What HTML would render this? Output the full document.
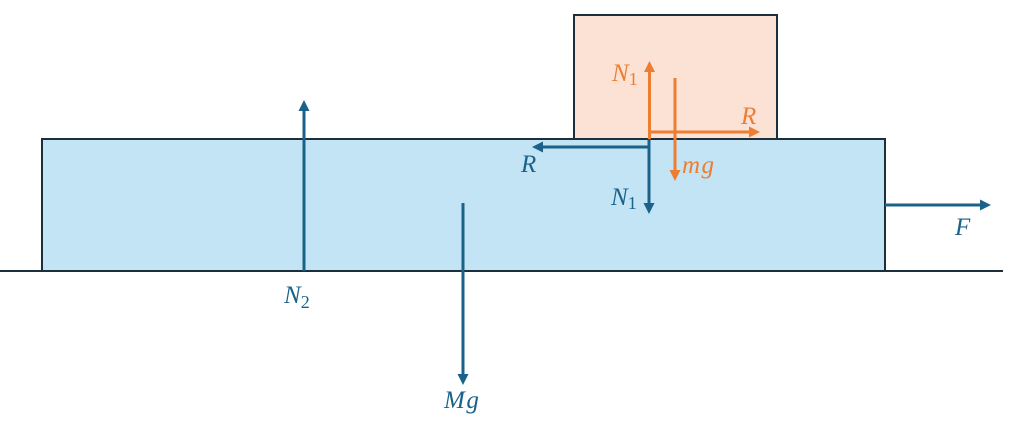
<!DOCTYPE html>
<html><head><meta charset="utf-8"><style>
html,body{margin:0;padding:0;background:#fff;}
svg{display:block;}
text{font-family:"Liberation Serif",serif;font-style:italic;font-size:25px;}
.b{fill:#1a6289;}
.o{fill:#ed7d31;}
</style></head><body>
<svg width="1024" height="435" viewBox="0 0 1024 435" xmlns="http://www.w3.org/2000/svg">
<!-- ground -->
<line x1="0" y1="271" x2="1003" y2="271" stroke="#1c2f3c" stroke-width="2"/>
<!-- big block -->
<rect x="42" y="139" width="843" height="132" fill="#c2e4f4" stroke="#1c2f3c" stroke-width="2"/>
<!-- small block -->
<rect x="574" y="15" width="203" height="124" fill="#fbe2d5" stroke="#1c2f3c" stroke-width="2"/>
<line x1="574" y1="139" x2="777" y2="139" stroke="#1c2f3c" stroke-width="2"/>

<g stroke="#1a6289" stroke-width="3" fill="none">
  <line x1="304" y1="271" x2="304" y2="110"/>
  <line x1="463" y1="203" x2="463" y2="375"/>
  <line x1="885" y1="205" x2="980" y2="205"/>
  <line x1="649" y1="139" x2="649" y2="204"/>
  <line x1="650" y1="147" x2="543" y2="147"/>
</g>
<g fill="#1a6289">
  <polygon points="304,100 298.5,111 309.5,111"/>
  <polygon points="463,385 457.5,374 468.5,374"/>
  <polygon points="991,205 980,199.5 980,210.5"/>
  <polygon points="649,214 643.5,203 654.5,203"/>
  <polygon points="532,147 543,141.5 543,152.5"/>
</g>

<g stroke="#ed7d31" stroke-width="3" fill="none">
  <line x1="649.5" y1="139" x2="649.5" y2="72"/>
  <line x1="649" y1="132" x2="749" y2="132"/>
  <line x1="675" y1="78" x2="675" y2="170"/>
</g>
<g fill="#ed7d31">
  <polygon points="649.5,61 644,72 655,72"/>
  <polygon points="760,132 749,126.5 749,137.5"/>
  <polygon points="675,181 669.5,170 680.5,170"/>
</g>

<!-- labels -->
<text class="o" x="612" y="81">N<tspan font-style="normal" font-size="18" dy="4">1</tspan></text>
<text class="o" x="741" y="124">R</text>
<text class="o" x="682" y="173" letter-spacing="1.5">mg</text>

<text class="b" x="521" y="172">R</text>
<text class="b" x="611" y="205">N<tspan font-style="normal" font-size="18" dy="4">1</tspan></text>
<text class="b" x="284" y="303">N<tspan font-style="normal" font-size="18" dy="5">2</tspan></text>
<text class="b" x="444" y="408" letter-spacing="1.5">Mg</text>
<text class="b" x="955" y="235">F</text>
</svg>
</body></html>
